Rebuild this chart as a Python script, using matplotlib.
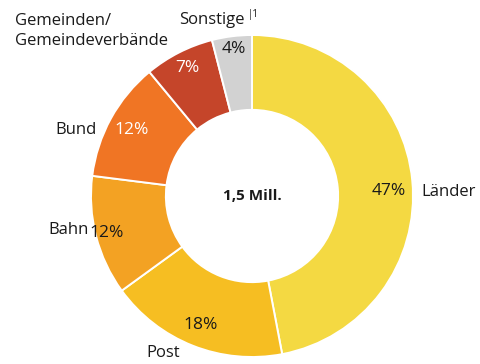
import numpy as np
import matplotlib.pyplot as plt

plt.rcParams['font.family'] = ['Open Sans', 'DejaVu Sans']

categories = ['Länder', 'Post', 'Bahn', 'Bund', 'Gemeinden/\nGemeindeverbände', 'Sonstige']
shares = [47, 18, 12, 12, 7, 4]
colors = ['#F4D942', '#F6BE22', '#F3A223', '#F07524', '#C5452A', '#D2D2D2']
pct_colors = ['#1a1a1a', '#1a1a1a', '#1a1a1a', 'white', 'white', '#1a1a1a']
total_label = '1,5 Mill.'

W, H = 481, 364
fig = plt.figure(figsize=(W / 100, H / 100), dpi=100)
ax = fig.add_axes([0, 0, 1, 1])

cx, cy, R = 252, H - 196, 161
wedges, _ = ax.pie(shares, colors=colors, startangle=90, counterclock=False,
                   center=(cx, cy), radius=R, frame=True,
                   wedgeprops=dict(width=R * 0.465, edgecolor='white', linewidth=1.4))
ax.set_xlim(0, W)
ax.set_ylim(0, H)
ax.set_aspect('equal')
ax.axis('off')

# percentage labels near the outer edge of each ring segment
pct_dist = [0.85, 0.86, 0.93, 0.85, 0.89, 0.92]
pct_turn = [-3.5, 0, 0, 0, 0, 0]  # small angular nudge in degrees
for w, v, c, d, t in zip(wedges, shares, pct_colors, pct_dist, pct_turn):
    ang = np.deg2rad((w.theta1 + w.theta2) / 2 + t)
    ax.text(cx + d * R * np.cos(ang), cy + d * R * np.sin(ang), f'{v}%',
            ha='center', va='center', fontsize=12.5, color=c)

# category labels outside the ring
label_pos = [(421, 192, 'left'), (163, 353, 'center'), (89, 230, 'right'),
             (97, 130, 'right'), (15, 31, 'left'), (245, 20, 'right')]
for name, (x, y, ha) in zip(categories, label_pos):
    ax.text(x, H - y, name, ha=ha, va='center', fontsize=12, color='#1a1a1a',
            linespacing=1.3)
ax.text(248, H - 15, '|1', ha='left', va='center', fontsize=7, color='#1a1a1a')

ax.text(cx, cy, total_label, ha='center', va='center', fontsize=11,
        fontweight='bold', color='#1a1a1a')

fig.savefig('out.png', dpi=100)
